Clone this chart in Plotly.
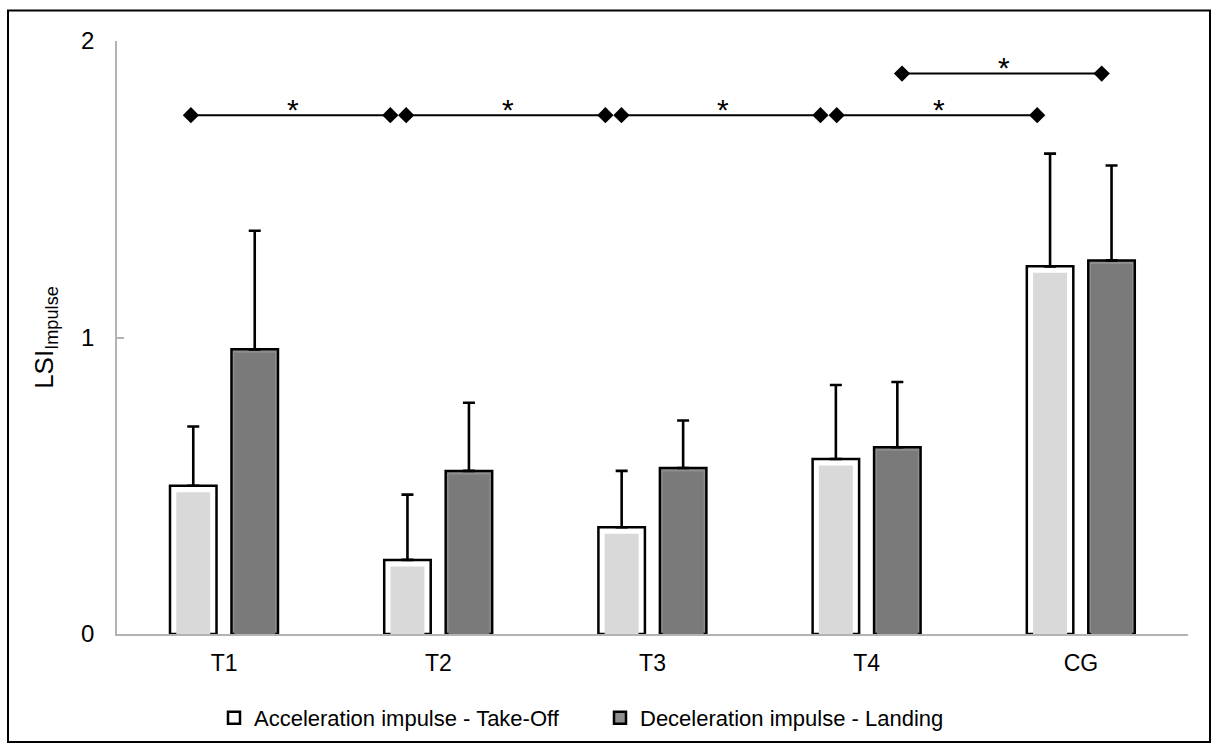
import plotly.graph_objects as go

# Limb symmetry index of impulse per group (mean and SD)
categories = ["T1", "T2", "T3", "T4", "CG"]
takeoff_mean = [0.50, 0.25, 0.36, 0.59, 1.24]
takeoff_sd = [0.20, 0.22, 0.19, 0.25, 0.38]
landing_mean = [0.96, 0.55, 0.56, 0.63, 1.26]
landing_sd = [0.40, 0.23, 0.16, 0.22, 0.32]

# Significance brackets (start, end, height)
sig_x0 = [-0.155, 0.85, 1.855, 2.86, 3.165]
sig_x1 = [0.776, 1.78, 2.784, 3.796, 4.097]
sig_y = [1.75, 1.75, 1.75, 1.75, 1.89]

y_ticks = [0, 1, 2]

# Figure geometry
W, H = 1218, 752
ML, MR, MT, MB = 117, 30, 41, 118
plot_w = W - ML - MR
plot_h = H - MT - MB
Y_RANGE = (0, 2)
X_RANGE = (-0.5, len(categories) - 0.5)
px_per_y = plot_h / (Y_RANGE[1] - Y_RANGE[0])
px_per_x = plot_w / (X_RANGE[1] - X_RANGE[0])

FONT = "Liberation Sans, Arial, sans-serif"
x_pos = list(range(len(categories)))

bar_w = 46.5 / px_per_x
light_off = -0.144 - bar_w / 2
dark_off = 0.143 - bar_w / 2

inner_light_w = 34 / px_per_x
inner_dark_w = 41 / px_per_x
light_inset = 6.5 / px_per_y
dark_inset = 3.5 / px_per_y

err_style = dict(type="data", symmetric=False, arrayminus=[0] * 5,
                 color="black", thickness=2.6, width=6)

fig = go.Figure()

# Take-off bars: outlined white frame with a light grey core
fig.add_trace(go.Bar(
    x=x_pos, y=takeoff_mean, width=bar_w, offset=light_off,
    name="Acceleration impulse - Take-Off",
    marker=dict(color="white", line=dict(color="black", width=2.5)),
    error_y=dict(array=takeoff_sd, **err_style),
))
fig.add_trace(go.Bar(
    x=x_pos, y=[v - light_inset for v in takeoff_mean], width=inner_light_w,
    offset=-0.144 - inner_light_w / 2, showlegend=False, hoverinfo="skip",
    marker=dict(color="#d9d9d9", line=dict(width=0)),
))

# Landing bars: outlined dark grey
fig.add_trace(go.Bar(
    x=x_pos, y=landing_mean, width=bar_w, offset=dark_off,
    name="Deceleration impulse - Landing",
    marker=dict(color="#8e8e8e", line=dict(color="black", width=2.5)),
    error_y=dict(array=landing_sd, **err_style),
))
fig.add_trace(go.Bar(
    x=x_pos, y=[v - dark_inset for v in landing_mean], width=inner_dark_w,
    offset=0.143 - inner_dark_w / 2, showlegend=False, hoverinfo="skip",
    marker=dict(color="#7a7a7a", line=dict(width=0)),
))

# Significance brackets with diamond end markers
bx, by = [], []
for a, b, h in zip(sig_x0, sig_x1, sig_y):
    bx += [a, b, None]
    by += [h, h, None]
fig.add_trace(go.Scatter(
    x=bx, y=by, mode="lines+markers", showlegend=False, hoverinfo="skip",
    line=dict(color="black", width=2),
    marker=dict(symbol="diamond", size=12.5, color="black"),
))

for a, b, h in zip(sig_x0, sig_x1, sig_y):
    fig.add_annotation(x=(a + b) / 2 + 0.01, y=h, text="*", showarrow=False,
                       yshift=6, font=dict(family=FONT, size=30, color="black"))

# Outer frame around the chart area
fig.add_shape(type="rect", xref="paper", yref="paper",
              x0=(8 - ML) / plot_w, x1=(1210 - ML) / plot_w,
              y0=(MT + plot_h - 742) / plot_h, y1=(MT + plot_h - 10.5) / plot_h,
              line=dict(color="black", width=2))

fig.update_layout(
    width=W, height=H,
    margin=dict(l=ML, r=MR, t=MT, b=MB),
    paper_bgcolor="white", plot_bgcolor="white",
    barmode="overlay",
    font=dict(family=FONT, size=23, color="black"),
    showlegend=True,
    legend=dict(orientation="h", x=(214 - ML) / plot_w, xanchor="left",
                y=(MT + plot_h - 718) / plot_h, yanchor="middle",
                font=dict(size=22), entrywidth=341, entrywidthmode="pixels",
                bgcolor="rgba(0,0,0,0)"),
    xaxis=dict(range=list(X_RANGE), tickvals=x_pos, ticktext=categories,
               showgrid=False, zeroline=False, showline=True,
               linecolor="#b3b3b3", linewidth=1.5, ticks="",
               ticklabelstandoff=8, tickfont=dict(size=23),
               fixedrange=True),
    yaxis=dict(range=list(Y_RANGE), tickvals=y_ticks,
               showgrid=False, zeroline=False, showline=True,
               linecolor="#b3b3b3", linewidth=1.5, ticks="inside",
               ticklen=7, tickcolor="#b3b3b3", tickwidth=1.5,
               ticklabelstandoff=16, tickfont=dict(size=24),
               title=dict(text="LSI<sub>Impulse</sub>", standoff=20,
                          font=dict(size=26)),
               fixedrange=True),
)

fig.write_html("out.html")
